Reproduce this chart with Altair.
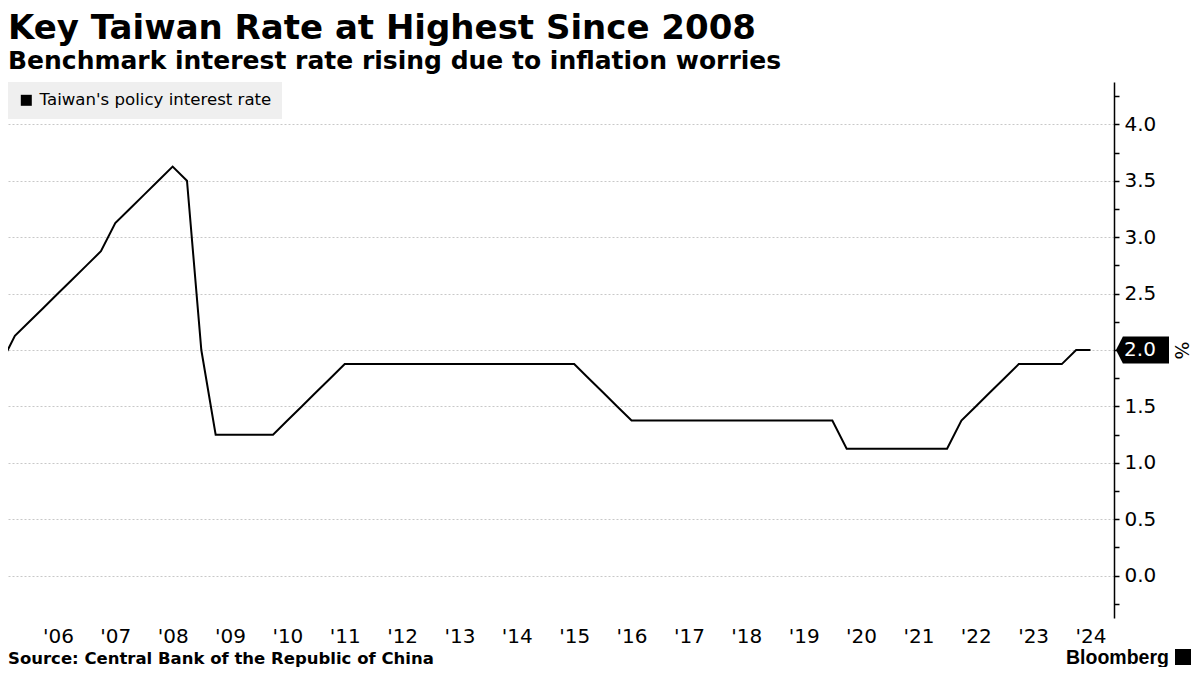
import json
import altair as alt
import pandas as pd

# ---------------- data ----------------
quarters = [
    2005.5, 2005.75,
    2006.0, 2006.25, 2006.5, 2006.75,
    2007.0, 2007.25, 2007.5, 2007.75,
    2008.0, 2008.25, 2008.5, 2008.75,
    2009.0, 2009.25, 2009.5, 2009.75,
    2010.0, 2010.25, 2010.5, 2010.75,
    2011.0, 2011.25, 2011.5, 2011.75,
    2012.0, 2012.25, 2012.5, 2012.75,
    2013.0, 2013.25, 2013.5, 2013.75,
    2014.0, 2014.25, 2014.5, 2014.75,
    2015.0, 2015.25, 2015.5, 2015.75,
    2016.0, 2016.25, 2016.5, 2016.75,
    2017.0, 2017.25, 2017.5, 2017.75,
    2018.0, 2018.25, 2018.5, 2018.75,
    2019.0, 2019.25, 2019.5, 2019.75,
    2020.0, 2020.25, 2020.5, 2020.75,
    2021.0, 2021.25, 2021.5, 2021.75,
    2022.0, 2022.25, 2022.5, 2022.75,
    2023.0, 2023.25, 2023.5, 2023.75,
    2024.0, 2024.25, 2024.5,
]
rates = [
    1.875, 2.125,
    2.25, 2.375, 2.5, 2.625,
    2.75, 2.875, 3.125, 3.25,
    3.375, 3.5, 3.625, 3.5,
    2.0, 1.25, 1.25, 1.25,
    1.25, 1.25, 1.375, 1.5,
    1.625, 1.75, 1.875, 1.875,
    1.875, 1.875, 1.875, 1.875,
    1.875, 1.875, 1.875, 1.875,
    1.875, 1.875, 1.875, 1.875,
    1.875, 1.875, 1.875, 1.75,
    1.625, 1.5, 1.375, 1.375,
    1.375, 1.375, 1.375, 1.375,
    1.375, 1.375, 1.375, 1.375,
    1.375, 1.375, 1.375, 1.375,
    1.375, 1.125, 1.125, 1.125,
    1.125, 1.125, 1.125, 1.125,
    1.125, 1.375, 1.5, 1.625,
    1.75, 1.875, 1.875, 1.875,
    1.875, 2.0, 2.0,
]
series_name = "Taiwan's policy interest rate"

x_tick_values = [2006.5, 2007.5, 2008.5, 2009.5, 2010.5, 2011.5, 2012.5, 2013.5,
                 2014.5, 2015.5, 2016.5, 2017.5, 2018.5, 2019.5, 2020.5, 2021.5,
                 2022.5, 2023.5, 2024.5]
x_tick_labels = ["'06", "'07", "'08", "'09", "'10", "'11", "'12", "'13", "'14", "'15",
                 "'16", "'17", "'18", "'19", "'20", "'21", "'22", "'23", "'24"]
y_tick_values = [-0.25, 0.0, 0.25, 0.5, 0.75, 1.0, 1.25, 1.5, 1.75, 2.0, 2.25,
                 2.5, 2.75, 3.0, 3.25, 3.5, 3.75, 4.0, 4.25]

title_text = "Key Taiwan Rate at Highest Since 2008"
subtitle_text = "Benchmark interest rate rising due to inflation worries"
source_text = "Source: Central Bank of the Republic of China"
brand_text = "Bloomberg"

# ---------------- chart ----------------
df = pd.DataFrame({"t": quarters, "rate": rates, "series": series_name})
last_df = pd.DataFrame({"rate": [rates[-1]]})

W, H = 1106, 536
FONT = "DejaVu Sans"

x_scale = alt.Scale(domain=[2005.63, 2024.91], nice=False, zero=False)
y_scale = alt.Scale(domain=[-0.375, 4.375], nice=False, zero=False)

x_enc = alt.X(
    "t:Q", scale=x_scale,
    axis=alt.Axis(
        values=x_tick_values,
        labelExpr=json.dumps(x_tick_labels) + "[round(datum.value - 2006.5)]",
        title=None, grid=False, ticks=False, domain=False,
        labelFont=FONT, labelFontSize=20, labelColor="black", labelPadding=8,
        labelFlush=False, labelOverlap=False,
    ),
)
y_enc = alt.Y(
    "rate:Q", scale=y_scale,
    axis=alt.Axis(
        orient="right", values=y_tick_values,
        labelExpr="(datum.value % 0.5 === 0 && datum.value !== 2) ? format(datum.value, '.1f') : ''",
        title="%", titleAngle=90, titleFont=FONT, titleFontSize=19, titleFontWeight="normal",
        titleColor="black", titleX=66, titleY=H / 2, titleAlign="center", titleBaseline="middle",
        domain=True, domainColor="black", domainWidth=1.5,
        ticks=True, tickColor="black", tickSize=5, tickWidth=1.5,
        labelFont=FONT, labelFontSize=20, labelColor="black", labelPadding=5,
        labelAlign="left", labelBaseline="middle", labelOverlap=False, labelFlush=False,
        grid=True, gridColor="#c8c8c8", gridDash=[2, 2], gridWidth=1,
        gridOpacity={"condition": {"test": "datum.value % 0.5 === 0", "value": 1}, "value": 0},
    ),
)

line = alt.Chart(df).mark_line(strokeWidth=2, clip=True).encode(
    x=x_enc,
    y=y_enc,
    color=alt.Color(
        "series:N", scale=alt.Scale(range=["black"]),
        legend=alt.Legend(
            title=None, orient="top-left", offset=0, padding=10,
            fillColor="#efefef", cornerRadius=0,
            symbolType="square", symbolSize=121, symbolFillColor="black",
            symbolStrokeColor="black", symbolStrokeWidth=0,
            labelFont=FONT, labelFontSize=16.6, labelColor="black", labelOffset=5,
            labelLimit=0,
        ),
    ),
)

tag_path = "M -1 0 L -0.74 -0.51 L 1 -0.51 L 1 0.51 L -0.74 0.51 Z"
tag = alt.Chart(last_df).mark_point(
    shape=tag_path, filled=True, color="black", opacity=1, size=2809, clip=False
).encode(x=alt.value(1134.5), y=y_enc)

tag_text = alt.Chart(last_df).mark_text(
    font=FONT, fontSize=20, color="white", align="center", baseline="middle", clip=False
).encode(x=alt.value(1132), y=y_enc, text=alt.Text("rate:Q", format=".1f"))

source = alt.Chart(pd.DataFrame({"s": [source_text]})).mark_text(
    font=FONT, fontSize=16.5, fontWeight="bold", color="black",
    align="left", baseline="alphabetic", clip=False
).encode(x=alt.value(0), y=alt.value(H + 46), text="s:N")

brand = alt.Chart(pd.DataFrame({"s": [brand_text]})).mark_text(
    font="Liberation Sans", fontSize=19.5, fontWeight="bold", color="black",
    align="left", baseline="alphabetic", clip=False
).encode(x=alt.value(1058), y=alt.value(H + 46), text="s:N")

icon = alt.Chart(pd.DataFrame({"s": [brand_text]})).mark_point(
    shape="square", filled=True, color="black", opacity=1, size=256, clip=False
).encode(x=alt.value(1175), y=alt.value(H + 39))

chart = alt.layer(line, tag, tag_text, source, brand, icon).properties(
    width=W, height=H,
    title=alt.TitleParams(
        text=title_text, subtitle=subtitle_text, anchor="start", frame="group",
        font=FONT, fontSize=34, fontWeight="bold", color="black",
        subtitleFont=FONT, subtitleFontSize=25, subtitleFontWeight="bold",
        subtitleColor="black", subtitlePadding=3, offset=8,
    ),
    autosize=alt.AutoSizeParams(type="none"),
    padding={"left": 0, "top": 74, "right": 78, "bottom": 49},
    background="white",
).configure_view(stroke=None)

chart.save("out.html", embed_options={"renderer": "svg", "actions": False})
